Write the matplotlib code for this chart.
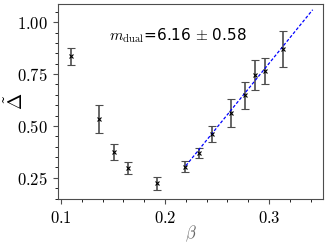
import numpy as np
import matplotlib
matplotlib.use('Agg')
import matplotlib.pyplot as plt
from matplotlib.ticker import MultipleLocator, FuncFormatter

plt.rcParams['mathtext.fontset'] = 'cm'

beta = [0.1093, 0.1368, 0.151, 0.1644, 0.192, 0.2192, 0.2324, 0.2455,
        0.2632, 0.2772, 0.2865, 0.2962, 0.3135]
delta = [0.835, 0.535, 0.376, 0.299, 0.224, 0.304, 0.370, 0.462,
         0.563, 0.648, 0.744, 0.765, 0.870]
delta_err = [0.040, 0.068, 0.039, 0.029, 0.032, 0.026, 0.026, 0.038,
             0.068, 0.066, 0.072, 0.064, 0.085]

# linear fit shown as dashed line
fit_slope = 6.16
fit_intercept = -1.047
fit_beta = np.array([0.22, 0.342])

fig = plt.figure(figsize=(3.29, 2.43), dpi=100)
ax = fig.add_axes([0.176, 0.181, 0.806, 0.803])

ax.errorbar(beta, delta, yerr=delta_err, fmt='x', color='k', ms=3, mew=0.8,
            ecolor='0.3', elinewidth=1.2, capsize=3, capthick=1.0)
ax.plot(fit_beta, fit_slope * fit_beta + fit_intercept, '--', color='#0000ff',
        lw=0.9, dashes=(2.5, 1.5))

ax.text(0.2125, 0.933, r'$m_{\rm dual}$=6.16 $\pm$ 0.58', fontsize=11,
        ha='center', va='center')

ax.set_xlim(0.097, 0.352)
ax.set_ylim(0.148, 1.088)
ax.xaxis.set_major_locator(MultipleLocator(0.1))
ax.xaxis.set_minor_locator(MultipleLocator(0.02))
ax.yaxis.set_major_locator(MultipleLocator(0.25))
ax.yaxis.set_minor_locator(MultipleLocator(0.05))
ax.xaxis.set_major_formatter(FuncFormatter(lambda v, p: '$%.1f$' % v))
ax.yaxis.set_major_formatter(FuncFormatter(lambda v, p: '$%.2f$' % v))
ax.tick_params(labelsize=12, color='0.3', width=0.8)
for s in ax.spines.values():
    s.set_color('0.3')

ax.set_xlabel(r'$\beta$', fontsize=12, color='0.4')
ax.xaxis.set_label_coords(0.50, -0.125)
ax.set_ylabel(r'$\tilde{\Delta}$', fontsize=14)
ax.yaxis.set_label_coords(-0.115, 0.5)

fig.savefig('out.png', dpi=100)
